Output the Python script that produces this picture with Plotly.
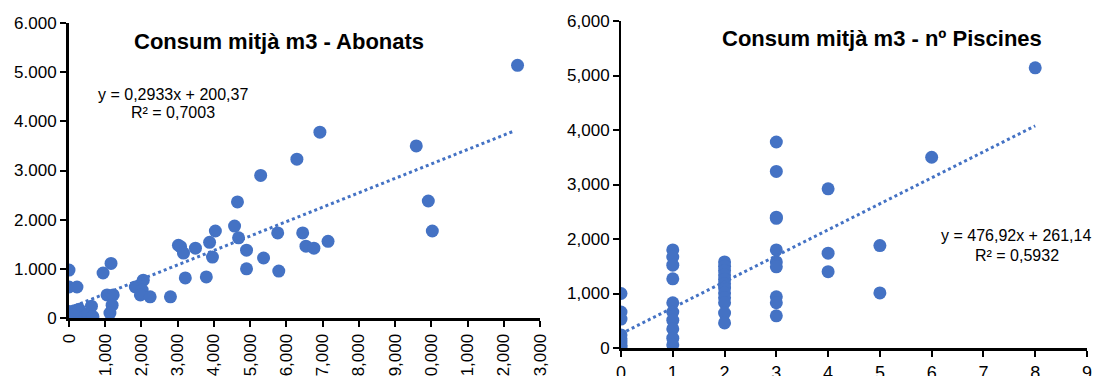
import plotly.graph_objects as go
from plotly.subplots import make_subplots

# --- Consum mitjà m3 vs Abonats ---
abonats = [0, 0, 220, 0, 150, 280, 400, 520, 620, 660, 100,
           940, 1160, 1050, 1220, 1190, 1130, 1830, 2050, 2020, 1970, 2240, 2800,
           3020, 3080, 3160, 3490, 3880, 4040, 3960, 3210, 3790, 4570, 4650, 4680,
           4900, 4900, 5370, 5290, 5760, 5790, 6290, 6925, 6450, 6540, 6760, 7150,
           9585, 9917, 10028, 12380]
consum_ab = [975, 630, 630, 130, 150, 180, 20, 80, 240, 30, 60,
             915, 1110, 470, 470, 260, 100, 630, 770, 570, 470, 430, 430,
             1480, 1450, 1320, 1420, 1540, 1770, 1240, 815, 835, 1870, 2360, 1630,
             1380, 1000, 1220, 2900, 1730, 955, 3230, 3780, 1730, 1460, 1420, 1560,
             3500, 2380, 1770, 5140]
slope_ab, icpt_ab = 0.2933, 200.37
r2_ab = "0,7003"
trend_ab_x = [0, 12300]

# --- Consum mitjà m3 vs nº Piscines ---
piscines = [0] * 8 + [1] * 10 + [2] * 12 + [3] * 10 + [4] * 3 + [5] * 2 + [6, 8]
consum_pi = [1000, 660, 530, 240, 170, 110, 50, 10,
             1800, 1670, 1520, 1270, 830, 660, 510, 350, 180, 60,
             1580, 1500, 1420, 1340, 1260, 1180, 1100, 1010, 920, 830, 640, 460,
             3780, 3240, 2400, 2380, 1800, 1580, 1490, 940, 830, 590,
             2920, 1740, 1400,
             1880, 1010,
             3500, 5140]
slope_pi, icpt_pi = 476.92, 261.14
r2_pi = "0,5932"
trend_pi_x = [0, 8]

# tick labels
x_ab_ticks = list(range(0, 13001, 1000))
x_ab_text = ["0"] + [f"{v // 1000},000" for v in x_ab_ticks[1:]]
y_ticks = list(range(0, 6001, 1000))
y_ab_text = ["0"] + [f"{v // 1000}.000" for v in y_ticks[1:]]
y_pi_text = ["0"] + [f"{v // 1000},000" for v in y_ticks[1:]]
x_pi_ticks = list(range(0, 10))

BLUE = "#4472C4"
FONT = "Liberation Sans, Arial, sans-serif"
W, H = 1098, 376

fig = make_subplots(rows=1, cols=2)

fig.add_trace(go.Scatter(x=abonats, y=consum_ab, mode="markers",
                         marker=dict(color=BLUE, size=13, line=dict(width=0)),
                         showlegend=False), row=1, col=1)
fig.add_trace(go.Scatter(x=trend_ab_x, y=[slope_ab * v + icpt_ab for v in trend_ab_x],
                         mode="lines", line=dict(color=BLUE, width=3, dash="dot"),
                         showlegend=False), row=1, col=1)
fig.add_trace(go.Scatter(x=piscines, y=consum_pi, mode="markers",
                         marker=dict(color=BLUE, size=13, line=dict(width=0)),
                         showlegend=False), row=1, col=2)
fig.add_trace(go.Scatter(x=trend_pi_x, y=[slope_pi * v + icpt_pi for v in trend_pi_x],
                         mode="lines", line=dict(color=BLUE, width=3, dash="dot"),
                         showlegend=False), row=1, col=2)

axis_common = dict(showgrid=False, zeroline=False, showline=True, linecolor="black",
                   ticks="outside", tickcolor="black", ticklen=6, tickwidth=2,
                   automargin=False,
                   tickfont=dict(family=FONT, size=17, color="black"))

fig.update_xaxes(domain=[69 / W, 540 / W], range=[0, 13000], tickvals=x_ab_ticks,
                 ticktext=x_ab_text, tickangle=-90, linewidth=3, **axis_common,
                 row=1, col=1)
fig.update_yaxes(domain=[1 - 318 / H, 1 - 23 / H], range=[0, 6000], tickvals=y_ticks,
                 ticktext=y_ab_text, linewidth=3, **axis_common, row=1, col=1)
fig.update_xaxes(domain=[621 / W, 1087 / W], range=[0, 9], tickvals=x_pi_ticks,
                 linewidth=3, **axis_common, row=1, col=2)
fig.update_yaxes(domain=[1 - 348 / H, 1 - 21 / H], range=[0, 6000], tickvals=y_ticks,
                 ticktext=y_pi_text, linewidth=2, **axis_common, row=1, col=2)
fig.update_xaxes(tickfont=dict(size=18), row=1, col=2)


def note(text, px, py, size, bold=False):
    fig.add_annotation(x=px / W, y=1 - py / H, xref="paper", yref="paper",
                       text=f"<b>{text}</b>" if bold else text, showarrow=False,
                       xanchor="center", yanchor="middle", borderpad=0,
                       font=dict(family=FONT, size=size, color="black"))


note("Consum mitjà m3 - Abonats", 279, 41, 22, bold=True)
note("Consum mitjà m3 - nº Piscines", 882, 39, 22, bold=True)
note(f"y = {str(slope_ab).replace('.', ',')}x + {str(icpt_ab).replace('.', ',')}", 173, 94, 16)
note(f"R² = {r2_ab}", 173, 113, 16)
note(f"y = {str(slope_pi).replace('.', ',')}x + {str(icpt_pi).replace('.', ',')}", 1016, 235, 16)
note(f"R² = {r2_pi}", 1017, 255, 16)

fig.update_layout(width=W, height=H, margin=dict(l=0, r=0, t=0, b=0),
                  paper_bgcolor="white", plot_bgcolor="white", showlegend=False)

fig.write_html("out.html")
